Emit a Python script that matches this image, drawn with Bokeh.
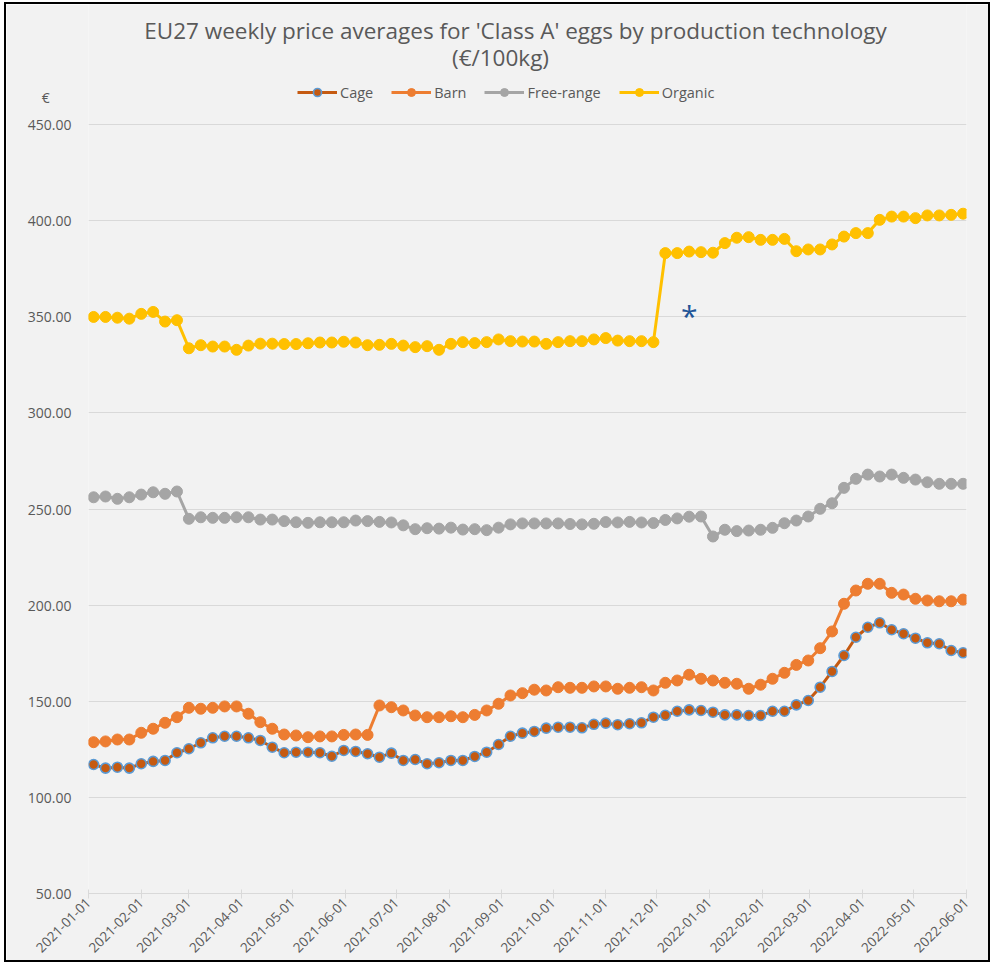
import math
import pandas as pd
from bokeh.plotting import figure
from bokeh.models import (ColumnDataSource, FixedTicker, DatetimeTickFormatter,
                          NumeralTickFormatter, Range1d, Legend, LegendItem, Label)
from bokeh.embed import file_html
from bokeh.resources import INLINE

# ---------------- data ----------------
weeks = pd.date_range("2021-01-04", periods=74, freq="7D")

cage = [117.1, 115.2, 115.7, 115.2, 117.5, 118.7, 119.2, 123.2, 125.3, 128.4,
        131.0, 131.8, 131.8, 131.0, 129.6, 126.1, 123.2, 123.5, 123.5, 123.2,
        121.4, 124.4, 123.9, 122.7, 120.9, 123.0, 119.2, 119.7, 117.5, 118.0,
        119.2, 119.2, 121.3, 123.5, 127.5, 131.8, 133.4, 134.3, 136.0, 136.5,
        136.5, 136.2, 138.0, 138.6, 137.8, 138.3, 138.8, 141.7, 142.7, 144.8,
        145.5, 145.2, 144.3, 142.9, 142.9, 142.6, 142.6, 144.8, 144.8, 148.1,
        150.4, 157.3, 165.5, 173.8, 183.3, 188.5, 190.8, 187.2, 185.1, 182.8,
        180.4, 179.9, 176.4, 175.2]

barn = [128.7, 129.1, 130.1, 130.1, 133.6, 135.7, 138.8, 141.7, 146.6, 146.1,
        146.6, 147.3, 147.3, 143.5, 139.1, 135.7, 132.7, 132.2, 131.3, 131.7,
        131.7, 132.5, 132.7, 132.5, 147.8, 146.9, 145.2, 142.6, 141.7, 141.7,
        142.2, 141.7, 142.9, 145.2, 148.7, 153.0, 154.2, 156.0, 155.6, 157.3,
        157.0, 157.0, 157.7, 157.7, 156.5, 157.0, 157.3, 155.6, 159.6, 160.8,
        163.8, 161.7, 160.8, 159.6, 159.1, 156.5, 158.6, 161.7, 164.8, 168.9,
        171.2, 177.6, 186.3, 200.7, 207.6, 211.1, 211.1, 206.4, 205.5, 203.3,
        202.4, 202.0, 202.0, 202.9]

free_range = [256.1, 256.5, 255.3, 256.1, 257.5, 258.7, 257.9, 259.1, 244.9, 245.7,
              245.4, 245.4, 245.7, 245.7, 244.5, 244.5, 243.7, 243.1, 242.8, 243.1,
              243.1, 243.1, 244.0, 243.7, 243.3, 243.0, 241.5, 239.5, 240.0, 239.8,
              240.3, 239.3, 239.5, 239.0, 240.3, 242.0, 242.5, 242.5, 242.5, 242.5,
              242.2, 242.0, 242.3, 243.2, 243.0, 243.3, 243.0, 242.7, 244.3, 245.1,
              246.0, 246.1, 235.7, 239.2, 238.5, 238.8, 239.2, 240.2, 242.6, 244.0,
              246.1, 250.1, 253.0, 261.0, 265.7, 267.9, 266.9, 267.9, 266.2, 265.3,
              263.9, 263.1, 263.1, 263.1]

organic = [349.9, 349.9, 349.5, 349.0, 351.5, 352.5, 347.5, 348.2, 333.6, 335.2,
           334.5, 334.5, 332.8, 335.0, 336.0, 336.0, 335.8, 335.8, 336.2, 336.6,
           336.6, 337.0, 336.6, 335.2, 335.4, 335.9, 335.0, 334.2, 334.7, 332.8,
           335.9, 336.8, 336.3, 336.8, 338.2, 337.3, 337.1, 337.1, 335.9, 336.8,
           337.3, 337.3, 338.2, 338.9, 337.6, 337.3, 337.3, 336.8, 383.1, 383.1,
           383.9, 383.6, 383.3, 388.3, 391.1, 391.4, 390.0, 390.0, 390.5, 384.1,
           385.0, 385.0, 387.6, 391.7, 393.5, 393.5, 400.4, 402.1, 402.1, 401.3,
           402.7, 402.7, 403.0, 403.6]

series_names = ["Cage", "Barn", "Free-range", "Organic"]
month_ticks = pd.date_range("2021-01-01", "2022-06-01", freq="MS")
y_ticks = [50, 100, 150, 200, 250, 300, 350, 400, 450]
unit_label = "€"
title_line1 = "EU27 weekly price averages for 'Class A' eggs by production technology"
title_line2 = "(€/100kg)"
note_date = "2021-12-20"
note_value = 350.6

# ---------------- layout (page pixels of the reference) ----------------
OX, OY = 6, 4                      # figure offset on the page (room for the black frame)
W, H = 982, 956
PAGE_FL, PAGE_FR, PAGE_FB, PAGE_450 = 88, 966, 893, 124
FL = PAGE_FL - OX
FR = W - (PAGE_FR - OX)
FB = H - (PAGE_FB - OY)
FONT = "Open Sans"
GREY_TXT = "#595959"
GRID = "#d9d9d9"
BG = "#f2f2f2"


def ms(d):
    return pd.Timestamp(d).value / 1e6


x0, x1 = ms("2021-01-01"), ms("2022-06-01")
y0, y450 = 50, 450
FW = W - FL - FR
FH = H - FB                        # frame reaches the top of the canvas
unit_per_px = (y450 - y0) / (PAGE_FB - PAGE_450)
y1 = y450 + (PAGE_450 - OY) * unit_per_px


def px_x(px):  # reference page pixel -> data x
    return x0 + (px - PAGE_FL) / FW * (x1 - x0)


def px_y(py):  # reference page pixel -> data y
    return y450 - (py - PAGE_450) * unit_per_px


p = figure(width=W, height=H, x_axis_type="datetime",
           x_range=Range1d(x0, x1), y_range=Range1d(y0, y1),
           output_backend="svg", toolbar_location=None,
           min_border_left=FL, min_border_right=FR,
           min_border_top=0, min_border_bottom=FB,
           background_fill_color=BG, border_fill_color=BG)
p.outline_line_color = None
p.styles = {"margin-left": f"{OX}px", "margin-top": f"{OY}px",
            "outline": "2px solid #000000"}

src = ColumnDataSource(dict(date=list(weeks), cage=cage, barn=barn,
                            free=free_range, organic=organic))

items = []
l1 = p.line("date", "cage", source=src, line_color="#c55a11", line_width=3)
s1 = p.scatter("date", "cage", source=src, marker="circle", size=10,
               fill_color="#c55a11", line_color="#5b9bd5", line_width=1.6)
items.append(LegendItem(label=series_names[0], renderers=[l1, s1]))
l2 = p.line("date", "barn", source=src, line_color="#ed7d31", line_width=3)
s2 = p.scatter("date", "barn", source=src, marker="circle", size=11,
               fill_color="#ed7d31", line_color="#ed7d31", line_width=1)
items.append(LegendItem(label=series_names[1], renderers=[l2, s2]))
l3 = p.line("date", "free", source=src, line_color="#a5a5a5", line_width=3)
s3 = p.scatter("date", "free", source=src, marker="circle", size=11,
               fill_color="#a5a5a5", line_color="#a5a5a5", line_width=1)
items.append(LegendItem(label=series_names[2], renderers=[l3, s3]))
l4 = p.line("date", "organic", source=src, line_color="#ffc000", line_width=3)
s4 = p.scatter("date", "organic", source=src, marker="circle", size=11,
               fill_color="#ffc000", line_color="#ffc000", line_width=1)
items.append(LegendItem(label=series_names[3], renderers=[l4, s4]))

LEG_H = 20
legend = Legend(items=items, orientation="horizontal",
                location=(297 - PAGE_FL, (PAGE_FB - 92) - LEG_H // 2),
                glyph_width=40, glyph_height=LEG_H, label_height=LEG_H,
                label_standoff=3, spacing=18, padding=0, margin=0,
                border_line_color=None, background_fill_alpha=0,
                label_text_font=FONT, label_text_font_size="14.5px",
                label_text_color=GREY_TXT)
p.add_layout(legend, "center")

# y axis (with the unit sign as an extra label near the top)
unit_tick = 464
p.yaxis.ticker = FixedTicker(ticks=y_ticks + [unit_tick])
p.yaxis.formatter = NumeralTickFormatter(format="0.00")
p.yaxis.major_label_overrides = {unit_tick: unit_label + "\u00a0" * 6}
p.yaxis.axis_line_color = None
p.yaxis.major_tick_line_color = None
p.yaxis.minor_tick_line_color = None
p.yaxis.major_tick_out = 0
p.yaxis.major_tick_in = 0
p.yaxis.major_label_standoff = 17
p.yaxis.major_label_text_font = FONT
p.yaxis.major_label_text_font_size = "14px"
p.yaxis.major_label_text_color = GREY_TXT

p.xaxis.ticker = FixedTicker(ticks=[ms(d) for d in month_ticks])
fmt = "%Y-%m-%d"
p.xaxis.formatter = DatetimeTickFormatter(days=fmt, months=fmt, years=fmt,
                                          hours=fmt, minutes=fmt)
p.xaxis.major_label_orientation = math.pi / 4
p.xaxis.axis_line_color = GRID
p.xaxis.major_tick_line_color = GRID
p.xaxis.minor_tick_line_color = None
p.xaxis.major_tick_in = 4
p.xaxis.major_tick_out = 5
p.xaxis.major_label_standoff = 2
p.xaxis.major_label_text_font = FONT
p.xaxis.major_label_text_font_size = "13.5px"
p.xaxis.major_label_text_color = GREY_TXT

p.xgrid.grid_line_color = None
p.ygrid.ticker = FixedTicker(ticks=y_ticks)
p.ygrid.grid_line_color = GRID
p.ygrid.grid_line_width = 1

# texts
p.add_layout(Label(x=px_x(515), y=px_y(30), text=title_line1, text_align="center",
                   text_baseline="middle", text_font=FONT, text_font_size="22.5px",
                   text_color=GREY_TXT))
p.add_layout(Label(x=px_x(500), y=px_y(57), text=title_line2, text_align="center",
                   text_baseline="middle", text_font=FONT, text_font_size="22.5px",
                   text_color=GREY_TXT))
p.add_layout(Label(x=ms(note_date), y=note_value, text="*", text_align="center",
                   text_baseline="middle", text_font=FONT, text_font_size="30px",
                   text_color="#1f5597"))

open("out.html", "w").write(file_html(p, INLINE))
